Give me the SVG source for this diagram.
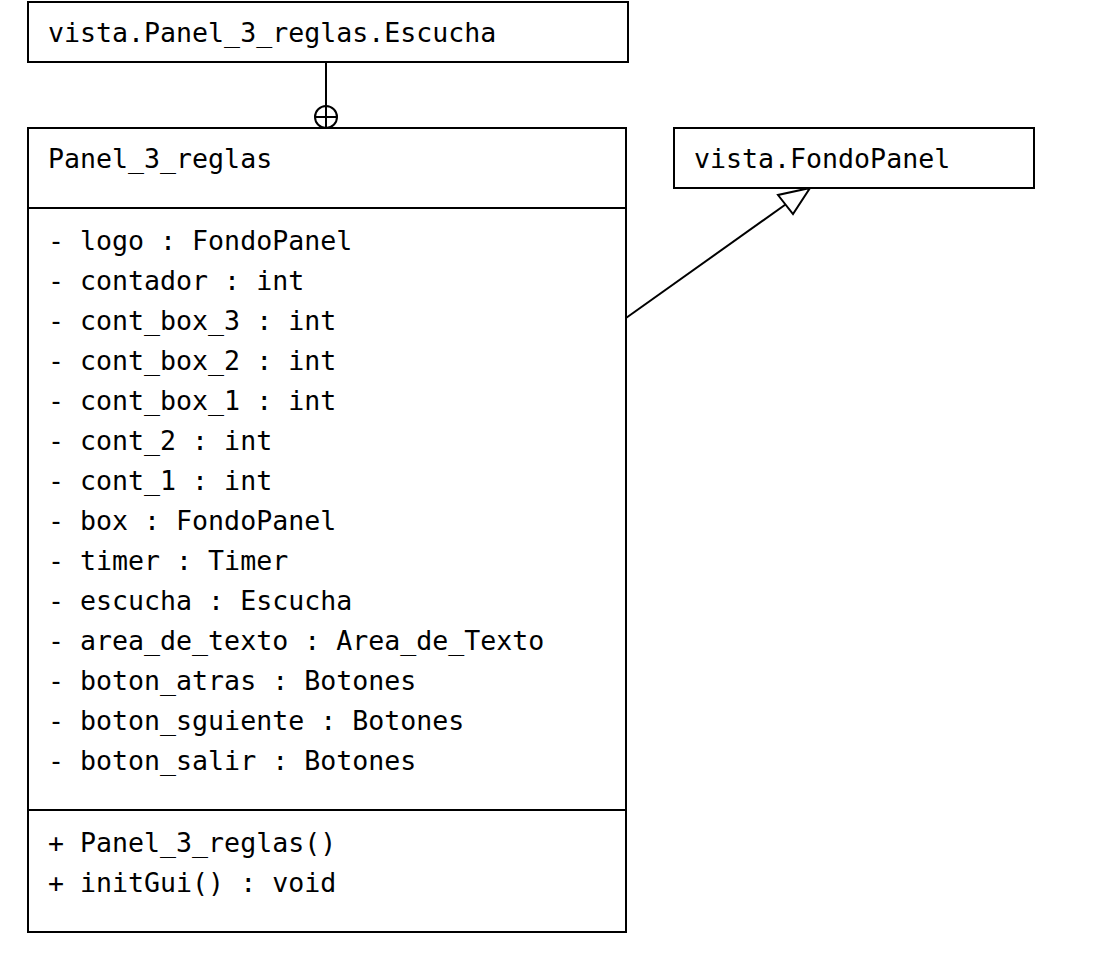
<svg xmlns="http://www.w3.org/2000/svg" width="1104" height="966" viewBox="0 0 1104 966">
<style>
.box{fill:#fff;stroke:#000;stroke-width:2}
.ln{stroke:#000;stroke-width:2;fill:none}
text{font-family:"DejaVu Sans Mono",monospace;font-size:26.6px;fill:#000}
</style>
<rect width="1104" height="966" fill="#fff"/>
<g id="connectors">
<line class="ln" x1="326" y1="62" x2="326" y2="106"/>
<circle class="ln" cx="326" cy="117" r="11"/>
<line class="ln" x1="315" y1="117" x2="337" y2="117"/>
<line class="ln" x1="326" y1="106" x2="326" y2="128"/>
<line class="ln" x1="626" y1="318" x2="785.5" y2="204.5"/>
<polygon class="box" points="810,188 778,195 793,214"/>
</g>
<g id="escucha">
<rect class="box" x="28" y="2" width="600" height="60"/>
<text x="48" y="42">vista.Panel_3_reglas.Escucha</text>
</g>
<g id="fondopanel">
<rect class="box" x="674" y="128" width="360" height="60"/>
<text x="694" y="168">vista.FondoPanel</text>
</g>
<g id="panel3reglas">
<rect class="box" x="28" y="128" width="598" height="804"/>
<line class="ln" x1="28" y1="208" x2="626" y2="208"/>
<line class="ln" x1="28" y1="810" x2="626" y2="810"/>
<text x="48" y="168">Panel_3_reglas</text>
<text x="48" y="250">- logo : FondoPanel</text>
<text x="48" y="290">- contador : int</text>
<text x="48" y="330">- cont_box_3 : int</text>
<text x="48" y="370">- cont_box_2 : int</text>
<text x="48" y="410">- cont_box_1 : int</text>
<text x="48" y="450">- cont_2 : int</text>
<text x="48" y="490">- cont_1 : int</text>
<text x="48" y="530">- box : FondoPanel</text>
<text x="48" y="570">- timer : Timer</text>
<text x="48" y="610">- escucha : Escucha</text>
<text x="48" y="650">- area_de_texto : Area_de_Texto</text>
<text x="48" y="690">- boton_atras : Botones</text>
<text x="48" y="730">- boton_sguiente : Botones</text>
<text x="48" y="770">- boton_salir : Botones</text>
<text x="48" y="852">+ Panel_3_reglas()</text>
<text x="48" y="892">+ initGui() : void</text>
</g>
</svg>
